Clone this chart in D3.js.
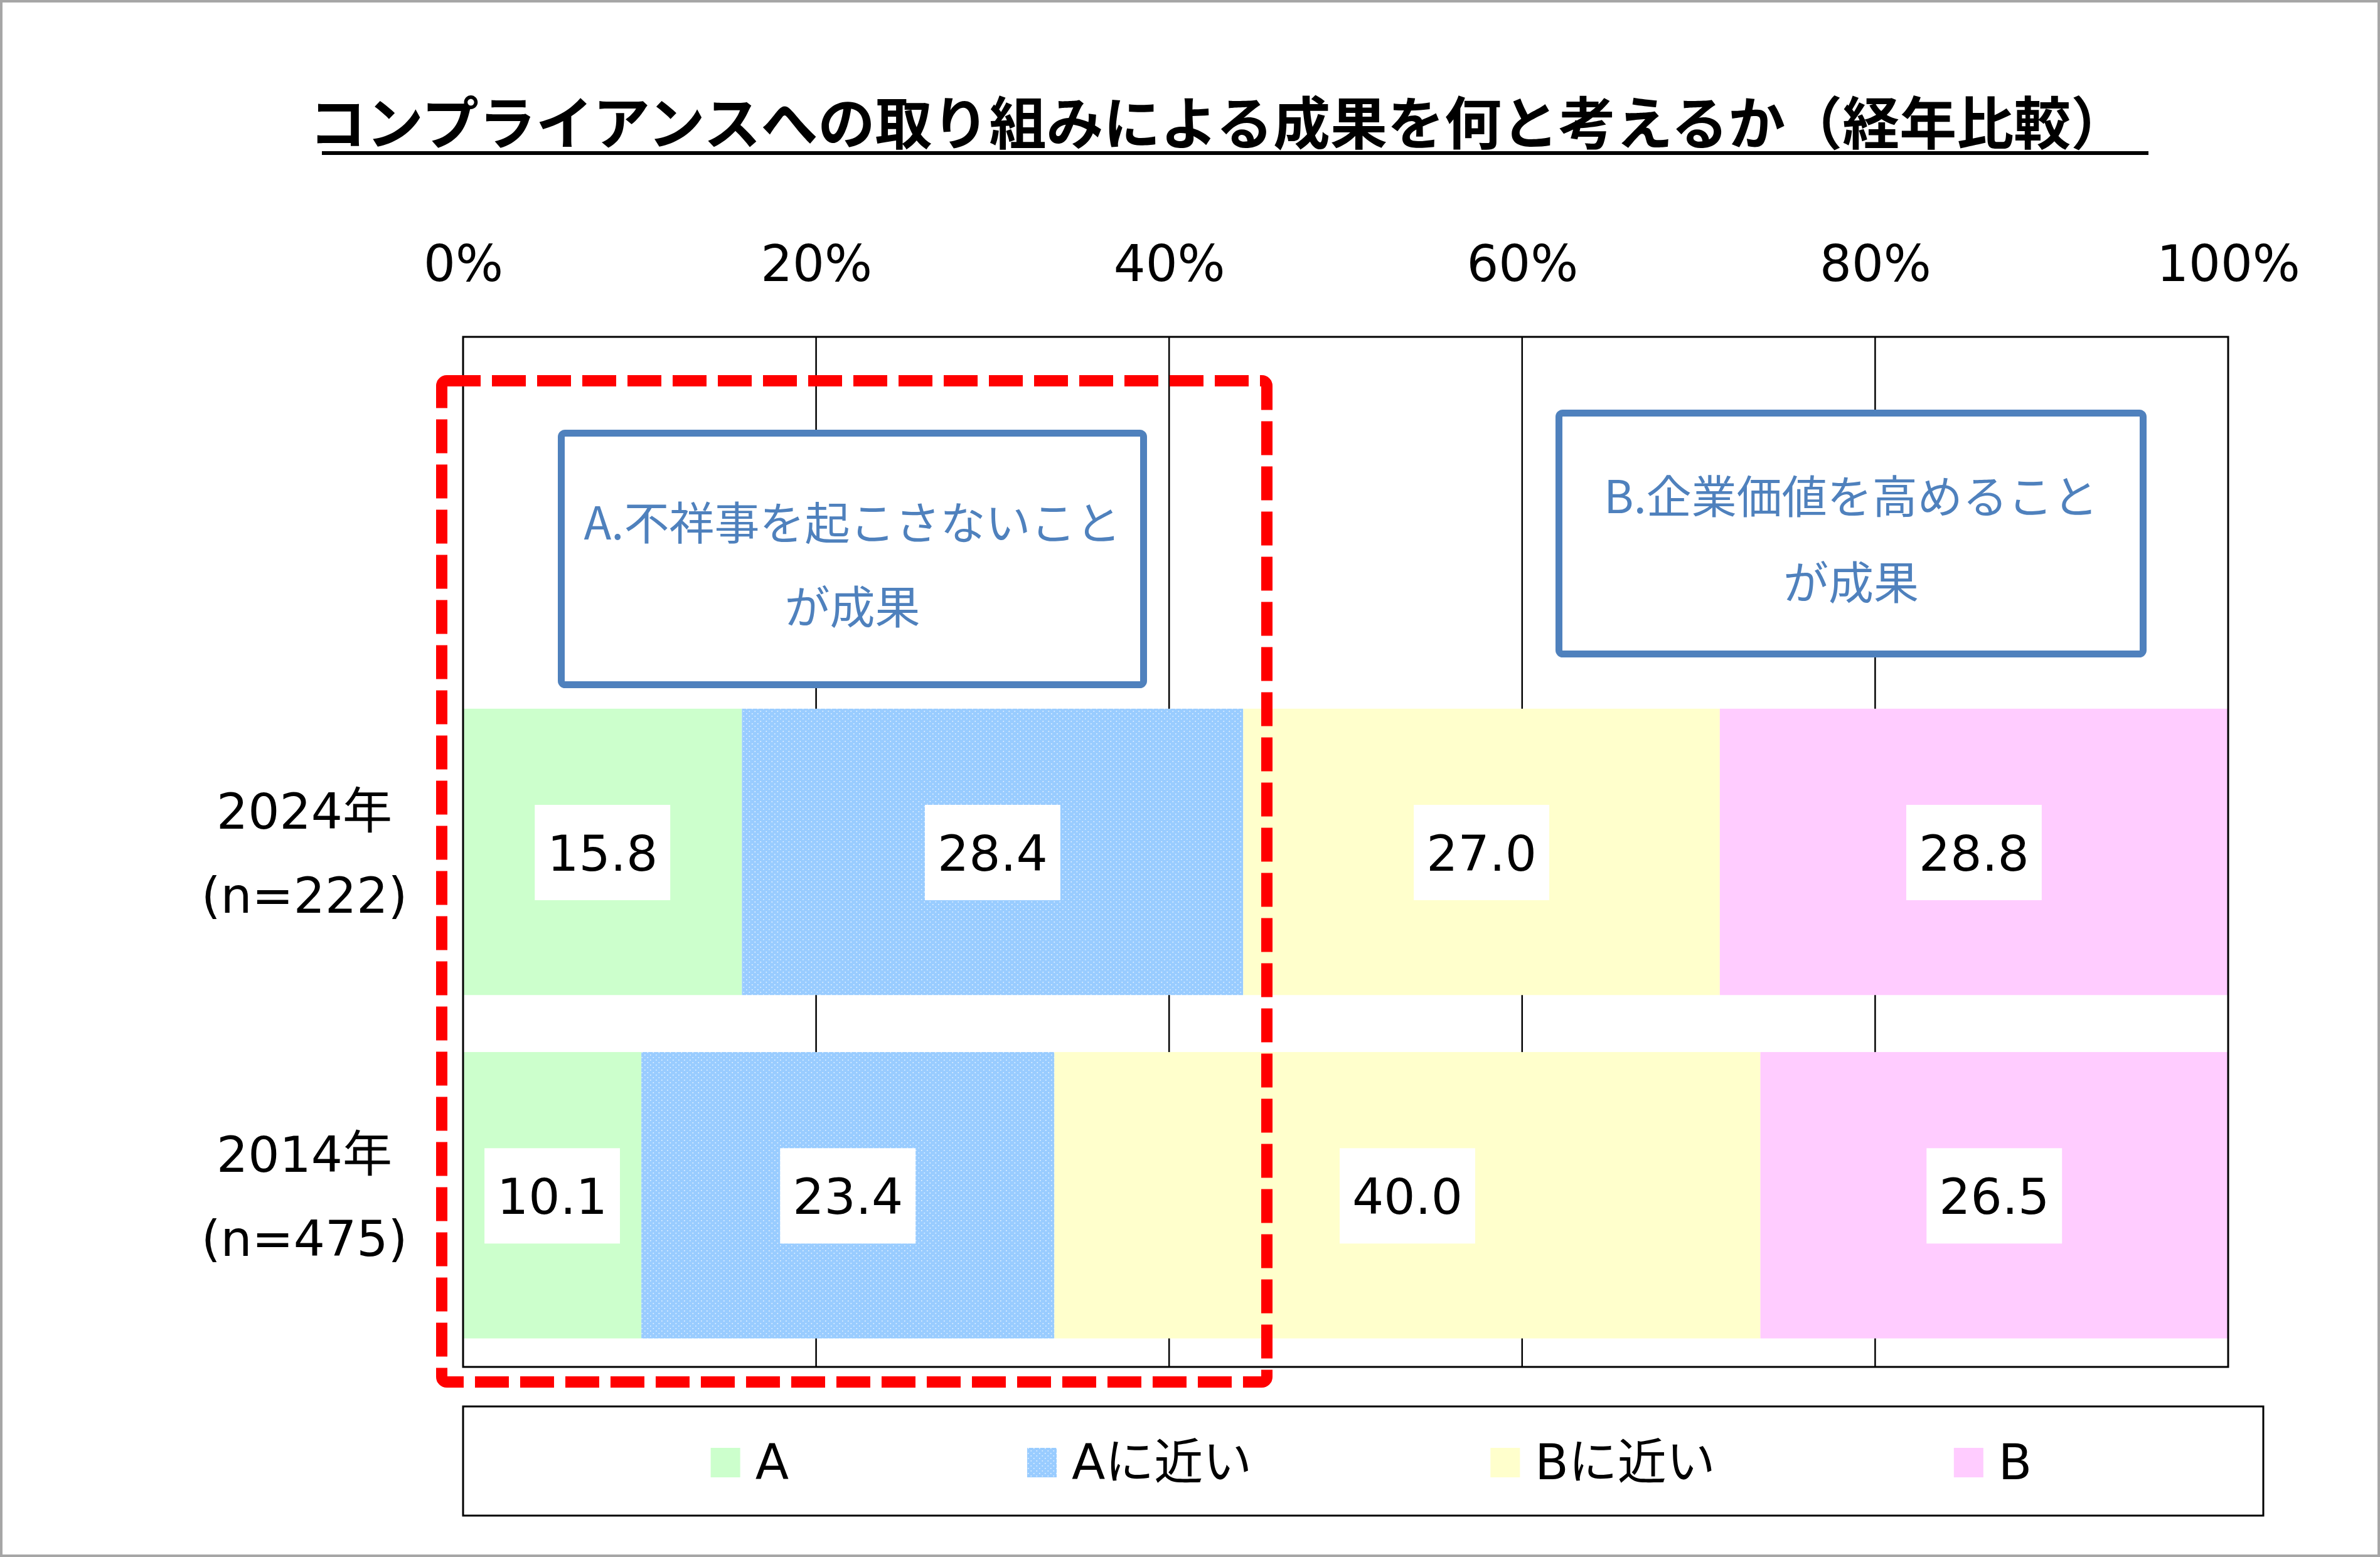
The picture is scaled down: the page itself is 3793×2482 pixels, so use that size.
<!DOCTYPE html>
<html>
<head>
<meta charset="utf-8">
<script src="https://cdn.jsdelivr.net/npm/d3@7"></script>
<style>
  body { margin: 0; background: #fff; }
  svg { display: block; }
</style>
</head>
<body>
<div id="graph"></div>
<script>
(function() {

  // chart data
  const categories = ["", "2024年", "2014年"]
  const sampleSizes = ["", "(n=222)", "(n=475)"]
  const seriesNames = ["A", "Aに近い", "Bに近い", "B"]
  const values2024 = [15.8, 28.4, 27.0, 28.8]
  const values2014 = [10.1, 23.4, 40.0, 26.5]
  const tickValues = [0, 20, 40, 60, 80, 100]
  const title = "コンプライアンスへの取り組みによる成果を何と考えるか（経年比較）"
  const noteA = ["A.不祥事を起こさないこと", "が成果"]
  const noteB = ["B.企業価値を高めること", "が成果"]

  const colors = ["#CCFFCC", "url(#dots)", "#FFFFCC", "#FFCCFF"]

  const width = 3793
  const height = 2482
  const plot = {left: 738, right: 3551, top: 537, bottom: 2179}
  const latin = "'DejaVu Sans', 'Noto Sans CJK JP', sans-serif"
  const cjk = "'Noto Sans CJK JP', sans-serif"

  const svg = d3.select("#graph")
    .append("svg")
      .attr("width", width)
      .attr("height", height)

  // dotted fill for the second series
  const pat = svg.append("defs").append("pattern")
      .attr("id", "dots")
      .attr("patternUnits", "userSpaceOnUse")
      .attr("width", 9)
      .attr("height", 8)
  pat.append("rect").attr("width", 9).attr("height", 8).attr("fill", "#99CCFF")
  pat.append("rect").attr("x", 1).attr("y", 1).attr("width", 1.6).attr("height", 1.6)
    .attr("fill", "#fff").attr("opacity", 0.75)
  pat.append("rect").attr("x", 5.5).attr("y", 5).attr("width", 1.6).attr("height", 1.6)
    .attr("fill", "#fff").attr("opacity", 0.75)

  // outer border
  svg.append("rect")
    .attr("x", 2).attr("y", 2)
    .attr("width", width - 4).attr("height", height - 4)
    .attr("fill", "#fff")
    .attr("stroke", "#A6A6A6")
    .attr("stroke-width", 4)

  // title + underline
  svg.append("text")
    .attr("x", 1942)
    .attr("y", 190)
    .attr("text-anchor", "middle")
    .attr("dominant-baseline", "central")
    .attr("font-family", cjk)
    .attr("font-weight", 700)
    .attr("font-size", 91)
    .text(title)
  svg.append("line")
    .attr("x1", 513).attr("x2", 3424)
    .attr("y1", 244).attr("y2", 244)
    .attr("stroke", "#000")
    .attr("stroke-width", 6)

  // rows for stacking
  const rows = [
    {cat: categories[1], values: values2024},
    {cat: categories[2], values: values2014},
  ].map(r => {
    const o = {cat: r.cat}
    seriesNames.forEach((s, i) => o[s] = r.values[i])
    return o
  })

  const stacked = d3.stack().keys(seriesNames)(rows)

  const x = d3.scaleLinear()
    .domain([0, 100])
    .range([plot.left, plot.right])

  const y = d3.scaleBand()
    .domain(categories)
    .range([plot.top, plot.bottom])
    .paddingInner(0.166)
    .paddingOuter(0.083)

  // gridlines
  svg.append("g")
    .selectAll("line")
    .data(tickValues.slice(1, -1))
    .join("line")
      .attr("x1", d => x(d)).attr("x2", d => x(d))
      .attr("y1", plot.top).attr("y2", plot.bottom)
      .attr("stroke", "#000")
      .attr("stroke-width", 2.5)

  // top axis labels
  const xAxis = svg.append("g")
    .attr("transform", "translate(0," + plot.top + ")")
    .call(d3.axisTop(x).tickValues(tickValues).tickSize(0).tickFormat(d => d + "%"))
  xAxis.select(".domain").remove()
  xAxis.selectAll("text")
    .attr("y", -118)
    .attr("dy", "0.36em")
    .attr("fill", "#000")
    .attr("font-family", latin)
    .attr("font-size", 80)

  // bars
  svg.append("g")
    .selectAll("g")
    .data(stacked)
    .join("g")
      .attr("fill", (d, i) => colors[i])
    .selectAll("rect")
    .data(d => d)
    .join("rect")
      .attr("x", d => x(d[0]))
      .attr("y", d => y(d.data.cat))
      .attr("width", d => x(d[1]) - x(d[0]))
      .attr("height", y.bandwidth())

  // plot frame
  svg.append("rect")
    .attr("x", plot.left).attr("y", plot.top)
    .attr("width", plot.right - plot.left)
    .attr("height", plot.bottom - plot.top)
    .attr("fill", "none")
    .attr("stroke", "#000")
    .attr("stroke-width", 3)

  // category labels
  const catLabels = svg.append("g")
    .selectAll("text")
    .data(categories.filter(c => c !== ""))
    .join("text")
      .attr("text-anchor", "middle")
      .attr("font-family", latin)
      .attr("font-size", 79)
  catLabels.append("tspan")
      .attr("x", 485)
      .attr("y", d => y(d) + y.bandwidth() / 2 - 64)
      .attr("dominant-baseline", "central")
      .text(d => d)
  catLabels.append("tspan")
      .attr("x", 485)
      .attr("y", d => y(d) + y.bandwidth() / 2 + 70)
      .attr("dominant-baseline", "central")
      .text(d => sampleSizes[categories.indexOf(d)])

  // data labels on white boxes
  const segs = stacked.flatMap(s => s.map(d => ({v: d[1] - d[0], d})))
  const lab = svg.append("g")
    .selectAll("g")
    .data(segs)
    .join("g")
      .attr("transform", s => "translate(" + x((s.d[0] + s.d[1]) / 2) + "," +
        (y(s.d.data.cat) + y.bandwidth() / 2) + ")")
  lab.append("rect").attr("fill", "#fff")
  const labText = lab.append("text")
      .attr("text-anchor", "middle")
      .attr("dominant-baseline", "central")
      .attr("y", 3)
      .attr("font-family", latin)
      .attr("font-size", 79)
      .text(s => d3.format(".1f")(s.v))
  labText.each(function() {
    const w = this.getComputedTextLength() + 40
    d3.select(this.previousSibling)
      .attr("x", -w / 2).attr("y", -75)
      .attr("width", w).attr("height", 152)
  })

  // note boxes
  function note(bx, by, bw, bh, lines, cy) {
    svg.append("rect")
      .attr("x", bx).attr("y", by)
      .attr("width", bw).attr("height", bh)
      .attr("rx", 6)
      .attr("fill", "#fff")
      .attr("stroke", "#4F81BD")
      .attr("stroke-width", 11)
    svg.append("g")
      .selectAll("text")
      .data(lines)
      .join("text")
        .attr("x", bx + bw / 2)
        .attr("y", (d, i) => cy[i])
        .attr("text-anchor", "middle")
        .attr("dominant-baseline", "central")
        .attr("font-family", cjk)
        .attr("font-size", 72)
        .attr("fill", "#4F81BD")
        .text(d => d)
  }
  note(894.5, 690.5, 928, 401, noteA, [828, 962])
  note(2484.5, 658.5, 931, 384, noteB, [786, 923])

  // red dashed highlight
  svg.append("rect")
    .attr("x", 704).attr("y", 607)
    .attr("width", 1315).attr("height", 1596)
    .attr("rx", 8)
    .attr("fill", "none")
    .attr("stroke", "#FF0000")
    .attr("stroke-width", 18)
    .attr("stroke-dasharray", "54 18")

  // legend
  const legBox = {x: 738, y: 2242, w: 2869, h: 174}
  svg.append("rect")
    .attr("x", legBox.x).attr("y", legBox.y)
    .attr("width", legBox.w).attr("height", legBox.h)
    .attr("fill", "#fff")
    .attr("stroke", "#000")
    .attr("stroke-width", 3)

  const legItems = svg.append("g")
    .selectAll("g")
    .data(seriesNames)
    .join("g")
  legItems.append("rect")
    .attr("y", -23)
    .attr("width", 47).attr("height", 47)
    .attr("fill", (d, i) => colors[i])
  legItems.append("text")
    .attr("x", 71)
    .attr("dominant-baseline", "central")
    .attr("font-family", latin)
    .attr("font-size", 78)
    .text(d => d)

  const itemW = []
  legItems.select("text").each(function() { itemW.push(71 + this.getComputedTextLength()) })
  const gap = 380
  const total = d3.sum(itemW) + gap * (itemW.length - 1)
  let cx = legBox.x + legBox.w / 2 - total / 2 + 13
  legItems.attr("transform", (d, i) => {
    const t = "translate(" + cx + "," + (legBox.y + legBox.h / 2 + 2) + ")"
    cx += itemW[i] + gap
    return t
  })

})();
</script>
</body>
</html>
